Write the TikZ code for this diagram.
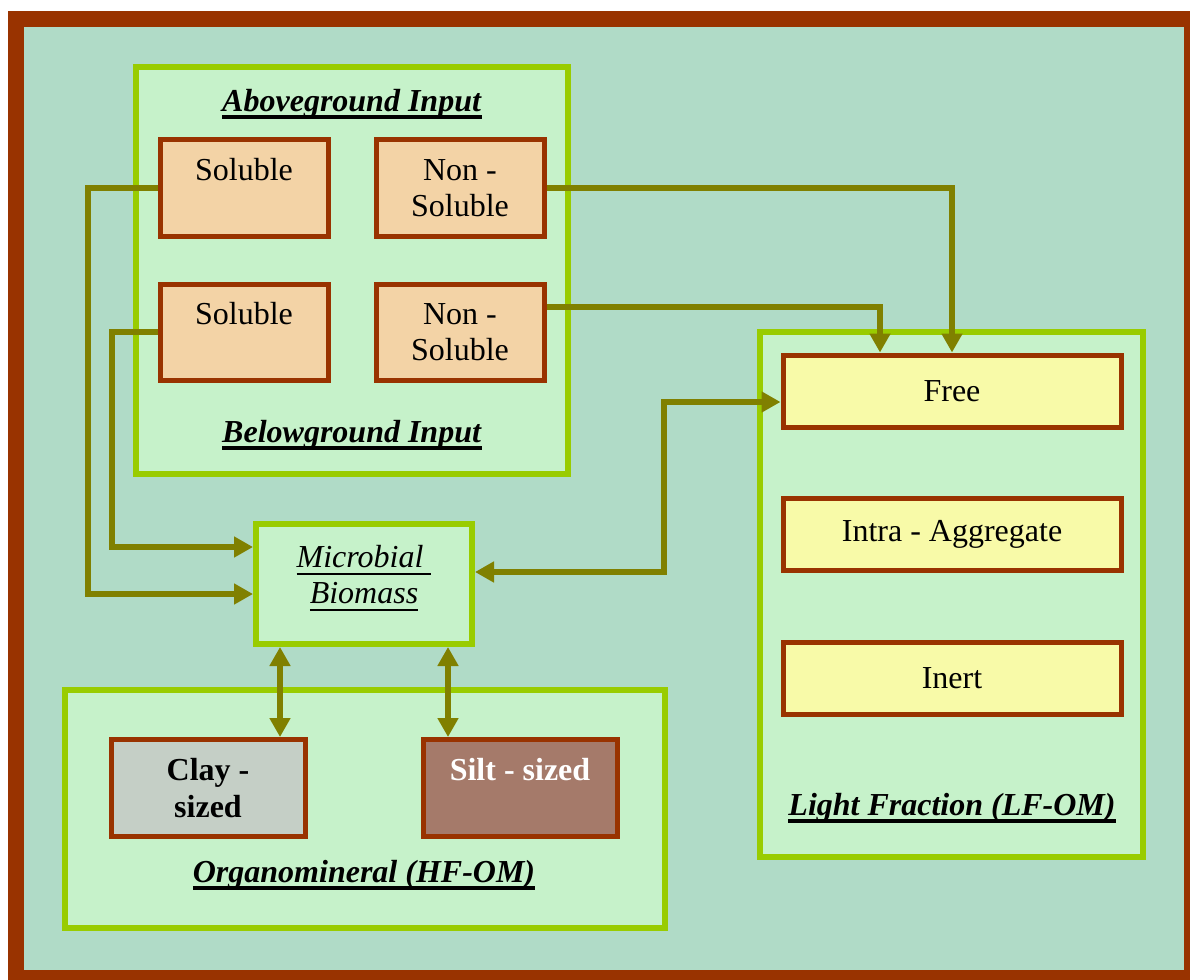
\documentclass[tikz,border=0pt]{standalone}
\usepackage{fontspec}
\setmainfont{Liberation Serif}
\usetikzlibrary{arrows.meta}
\usetikzlibrary{calc}
\definecolor{framec}{HTML}{993300}
\definecolor{groundc}{HTML}{B0DBC7}
\definecolor{poolline}{HTML}{99CC00}
\definecolor{poolfill}{HTML}{C6F2CA}
\definecolor{boxline}{HTML}{993300}
\definecolor{inputfill}{HTML}{F3D3A6}
\definecolor{lightfill}{HTML}{F8FAA8}
\definecolor{clayfill}{HTML}{C5CFC6}
\definecolor{siltfill}{HTML}{A57A6A}
\definecolor{arrowc}{HTML}{808000}
\newsavebox{\ulbox}
\newcommand{\ulx}[2]{\sbox{\ulbox}{#2}\rlap{\usebox{\ulbox}}\rule[-3pt]{\wd\ulbox}{#1}}
\newcommand{\hdr}[1]{\ulx{1.6pt}{#1}}
\newcommand{\thin}[1]{\ulx{0.8pt}{#1}}

\begin{document}
\begin{tikzpicture}[x = 0.4pt, y = -0.4pt,
	every node/.style = {font = \fontsize{12.8}{14.5}\selectfont, align = center},
	pool/.style = {draw = poolline, line width = 2.4pt, fill = poolfill, inner sep = 0pt},
	box/.style = {draw = boxline, line width = 2pt, inner sep = 0pt, minimum width = 67.2pt, minimum height = 38.4pt},
	frac/.style = {box, fill = lightfill, minimum width = 135.2pt, minimum height = 28.8pt},
	flow/.style = {draw = arrowc, line width = 2.4pt, -{Triangle[length = 7.6pt, width = 8pt]}},
	biflow/.style = {flow, {Triangle[length = 7.6pt, width = 8pt]}-{Triangle[length = 7.6pt, width = 8pt]}}]
	\useasboundingbox (0,0) rectangle (1190,979);
	\clip (0,0) rectangle (1190,979);
	\fill[white] (0,0) rectangle (1190,979);
	\draw[framec, fill = groundc, line width = 6.4pt] (16,19) rectangle (1192,978);

	\node[pool, minimum width = 172.8pt, minimum height = 162.8pt] (above) at (352,270.5) {};
	\node[pool, minimum width = 240pt, minimum height = 95.2pt] (organo) at (365,809) {};
	\node[pool, minimum width = 153.2pt, minimum height = 210pt] (light) at (951.5,594.5) {};
	\node[pool, minimum width = 86.4pt, minimum height = 48pt] (micro) at (364,584) {};

	\node[box, fill = inputfill] (sol1) at (244,188) {Soluble\\ \mbox{}};
	\node[box, fill = inputfill] (nonsol1) at (460,188) {Non -\\ Soluble};
	\node[box, fill = inputfill] (sol2) at (244,332) {Soluble\\ \mbox{}};
	\node[box, fill = inputfill] (nonsol2) at (460,332) {Non -\\ Soluble};

	\node[frac] (free) at (952,391) {Free};
	\node[frac] (intra) at (952,534) {Intra - Aggregate};
	\node[frac] (inert) at (952,678) {Inert};

	\node[box, fill = clayfill, minimum width = 77.6pt, minimum height = 38.8pt] (clay) at (208,788) {\textbf{Clay -}\\ \textbf{sized}};
	\node[box, fill = siltfill, minimum width = 77.6pt, minimum height = 38.8pt, text = white] (silt) at (520,788) {\textbf{Silt - sized}\\ \mbox{}};

	\node (abovetxt) at (352,104) {\hdr{\textbf{\textit{Aboveground Input}}}};
	\node (belowtxt) at (352,435) {\hdr{\textbf{\textit{Belowground Input}}}};
	\node (organotxt) at (364,875) {\hdr{\textbf{\textit{Organomineral (HF-OM)}}}};
	\node (lighttxt) at (952,808) {\hdr{\textbf{\textit{Light Fraction (LF-OM)}}}};
	\node (microtxt) at (364,578) {\thin{\textit{Microbial\ }}\\ \thin{\textit{Biomass}}};

	\coordinate (bendA) at (88,594);
	\coordinate (bendB) at (112,547);
	\coordinate (bendC) at (664,490);
	\coordinate (clayin) at ($(clay.north)+(72,0)$);
	\coordinate (siltin) at ($(silt.north)+(-72,0)$);
	\draw[flow] (sol1.west) -| (bendA) -- (bendA -| micro.west);
	\draw[flow] (sol2.west) -| (bendB) -- (bendB -| micro.west);
	\draw[flow] (nonsol1.east) -| (free.north);
	\draw[flow] ($(nonsol2.east)+(0,-25)$) -| ($(free.north)+(-72,0)$);
	\draw[biflow] ($(free.west)+(0,11)$) -| (bendC) |- ($(micro.east)+(0,-12)$);
	\draw[biflow] (clayin |- micro.south) -- (clayin);
	\draw[biflow] (siltin |- micro.south) -- (siltin);
\end{tikzpicture}
\end{document}
